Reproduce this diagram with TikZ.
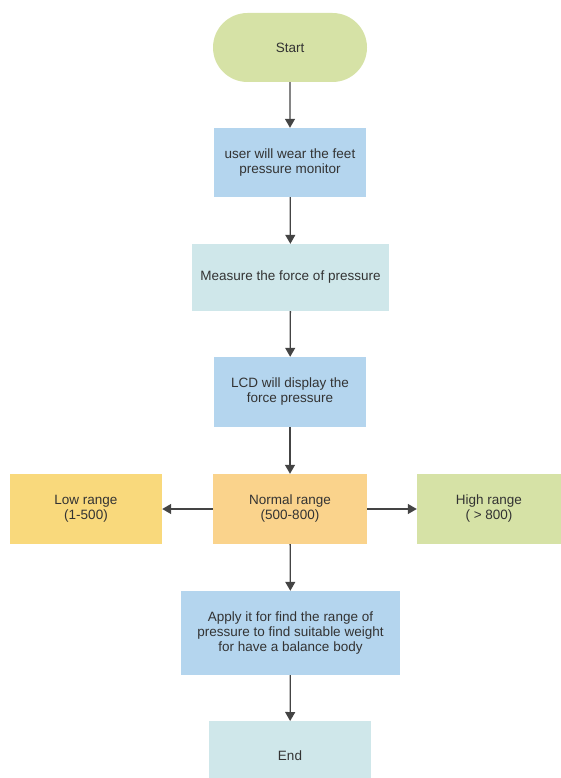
\documentclass[tikz,border=0pt]{standalone}
\usepackage{fontspec}
\setmainfont{Liberation Sans}
\usetikzlibrary{arrows.meta,shapes.misc}
\definecolor{cgreen}{HTML}{D6E2A6}
\definecolor{cblue}{HTML}{B4D5EE}
\definecolor{ccyan}{HTML}{CFE7EA}
\definecolor{corange}{HTML}{FAD38C}
\definecolor{cyellow}{HTML}{F9D97C}
\definecolor{ctext}{HTML}{333333}
\definecolor{carrow}{HTML}{444444}
\tikzset{
  box/.style={rectangle, inner sep=0pt, align=center, text=ctext, font=\fontsize{13.5}{15}\selectfont},
  conn/.style={draw=carrow, line width=1.3pt, -{Triangle[length=9pt,width=10pt]}},
}
\begin{document}
\begin{tikzpicture}[x=1pt,y=-1pt]
\useasboundingbox (0,0) rectangle (561,778);
\node[box, rounded rectangle, fill=cgreen, minimum width=154pt, minimum height=69pt] (start) at (290,47.5) {Start};
\node[box, fill=cblue, minimum width=152pt, minimum height=69pt] (b1) at (290,162.5) {user will wear the feet\\ pressure monitor};
\node[box, fill=ccyan, minimum width=197pt, minimum height=67pt] (b2) at (290.5,277.5) {Measure the force of pressure};
\node[box, fill=cblue, minimum width=152pt, minimum height=70pt] (b3) at (290,392) {LCD will display the\\ force pressure};
\node[box, fill=corange, minimum width=154pt, minimum height=70pt] (normal) at (290,509) {Normal range\\ (500-800)};
\node[box, fill=cyellow, minimum width=152pt, minimum height=70pt] (low) at (86,509) {Low range\\ (1-500)};
\node[box, fill=cgreen, minimum width=144pt, minimum height=70pt] (high) at (489,509) {High range\\ ( > 800)};
\node[box, fill=cblue, minimum width=219pt, minimum height=84pt] (apply) at (290.5,633) {Apply it for find the range of\\ pressure to find suitable weight\\ for have a balance body};
\node[box, fill=ccyan, minimum width=162pt, minimum height=70pt, anchor=north] (end) at (290,721) {};
\node[box] (endtxt) at (290,756) {End};
\draw[conn] (start) -- (b1);
\draw[conn] (b1) -- (b2);
\draw[conn] (b2) -- (b3);
\draw[conn] (b3) -- (normal);
\draw[conn] (normal) -- (low);
\draw[conn] (normal) -- (high);
\draw[conn] (normal) -- (apply);
\draw[conn] (apply) -- (end);
\end{tikzpicture}
\end{document}
